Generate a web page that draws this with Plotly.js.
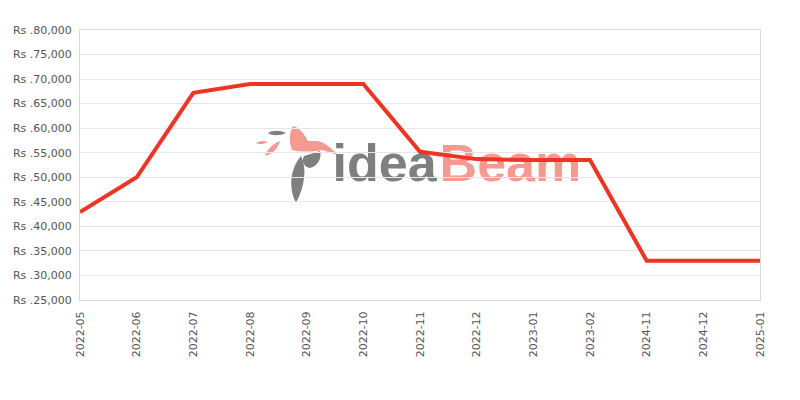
<!DOCTYPE html>
<html>
<head>
<meta charset="utf-8">
<script src="https://cdn.plot.ly/plotly-3.0.1.min.js"></script>
<style>html,body{margin:0;padding:0;background:#fff;}#chart{width:800px;height:400px;}</style>
</head>
<body>
<div id="chart"></div>
<script>
var months = ["2022-05","2022-06","2022-07","2022-08","2022-09","2022-10","2022-11","2022-12","2023-01","2023-02","2024-11","2024-12","2025-01"];
var prices = [42900, 50000, 67200, 69000, 69000, 69000, 55200, 53700, 53500, 53500, 33000, 33000, 33000];
var watermarkWords = ["idea", "Beam"];
var watermarkColors = ["#7f7f7f", "#f59a90"];
var watermarkX = [0.448, 0.633];
var watermarkY = [0.489, 0.489];

// logo decoration (pixel coordinates of the page -> plot paper coordinates)
var L = 80, T = 30, W = 680, H = 270;
function P(pts) {
  return pts.map(function (s) {
    var c = s[0];
    var nums = s.slice(1);
    var out = [];
    for (var i = 0; i < nums.length; i += 2) {
      out.push(((nums[i] - L) / W).toFixed(5) + "," + ((T + H - nums[i + 1]) / H).toFixed(5));
    }
    return c + out.join(" ");
  }).join(" ") + " Z";
}
var logoShapes = [
  {color: "#f59a90", d: [["M",293,126],["C",300,128,305,135,308,141],["L",318,141],["C",326,143,331,148,338,155],["L",322,150],["C",312,152,300,152,292,150],["C",289,142,289,133,293,126]]},
  {color: "#7f7f7f", d: [["M",268,133],["C",272,130,280,130,286,133],["C",280,136,272,136,268,133]]},
  {color: "#f59a90", d: [["M",256,143],["C",259,141,264,140,268,142],["C",264,144,259,145,256,143]]},
  {color: "#f59a90", d: [["M",265,156],["C",267,150,272,144,280,141],["C",278,148,273,154,265,156]]},
  {color: "#7f7f7f", d: [["M",304,156],["L",320,151],["C",322,158,318,166,310,168],["C",304,167,301,162,304,156]]},
  {color: "#7f7f7f", d: [["M",301,156],["C",307,168,305,186,296,203],["C",289,190,289,170,301,156]]}
];

var watermark = {
  x: watermarkX, y: watermarkY, text: watermarkWords,
  mode: "text", type: "scatter", xaxis: "x", yaxis: "y",
  textposition: "middle center",
  textfont: {family: "Liberation Sans, Arial, sans-serif", size: 52, weight: "bold", color: watermarkColors},
  hoverinfo: "skip", showlegend: false
};
var line = {
  x: months, y: prices, type: "scatter", mode: "lines",
  xaxis: "x2", yaxis: "y2",
  line: {color: "#ee3524", width: 4},
  showlegend: false
};

var layout = {
  width: 800, height: 400,
  margin: {l: 80, r: 40, t: 30, b: 100},
  paper_bgcolor: "#ffffff", plot_bgcolor: "rgba(0,0,0,0)",
  font: {family: "DejaVu Sans, Verdana, sans-serif", size: 11, color: "#555555"},
  xaxis: {domain: [0,1], range: [0,1], visible: false, fixedrange: true},
  yaxis: {domain: [0,1], range: [0,1], visible: false, fixedrange: true},
  xaxis2: {
    type: "category", anchor: "y2", domain: [0,1],
    range: [0, months.length - 1],
    showgrid: false, showline: true, linecolor: "#d9d9d9", linewidth: 1, mirror: true,
    tickangle: -90, ticks: "outside", ticklen: 6, tickcolor: "rgba(0,0,0,0)",
    tickfont: {size: 11, color: "#555555"}
  },
  yaxis2: {
    anchor: "x2", domain: [0,1],
    range: [25000, 80000], dtick: 5000, tick0: 25000,
    tickprefix: "Rs .", tickformat: ",d",
    showgrid: true, gridcolor: "#e6e6e6", gridwidth: 1,
    showline: true, linecolor: "#d9d9d9", linewidth: 1, mirror: true,
    zeroline: false, ticks: "outside", ticklen: 5, tickcolor: "rgba(0,0,0,0)",
    tickfont: {size: 11, color: "#555555"}
  },
  shapes: logoShapes.map(function (s) {
    return {type: "path", xref: "paper", yref: "paper", layer: "below",
            path: P(s.d), fillcolor: s.color, line: {width: 0}};
  })
};
Plotly.newPlot("chart", [watermark, line], layout, {displayModeBar: false, staticPlot: true});
</script>
</body>
</html>
